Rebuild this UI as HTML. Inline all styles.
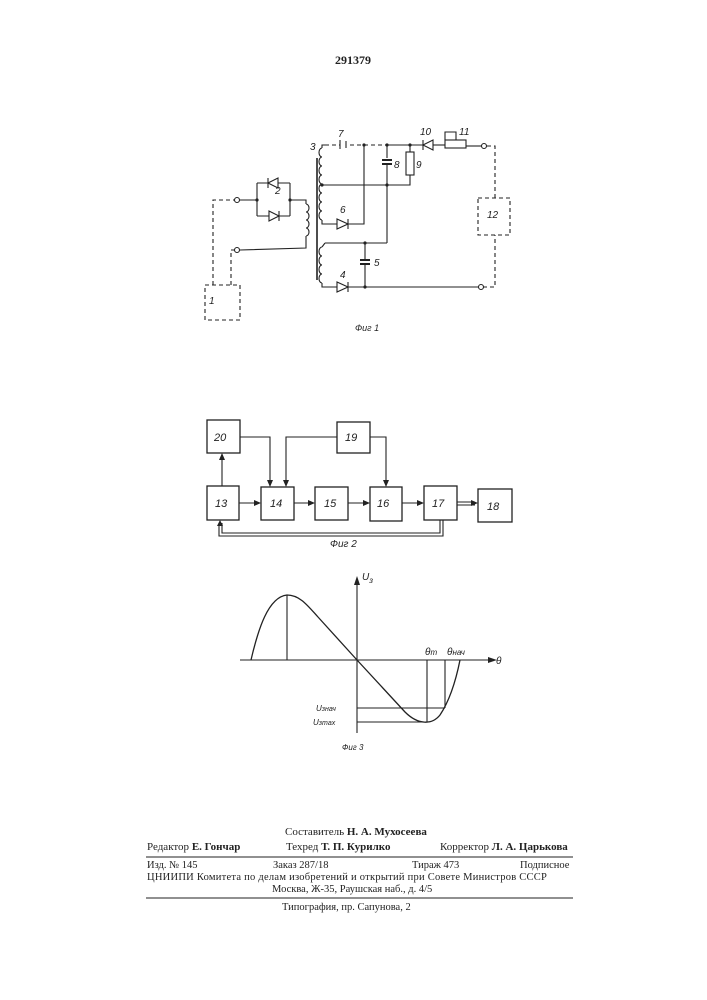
<!DOCTYPE html>
<html><head><meta charset="utf-8"><style>
html,body{margin:0;padding:0;background:#fff;}
body{width:707px;height:1000px;position:relative;overflow:hidden;font-family:"Liberation Serif",serif;color:#222;}
.t{position:absolute;white-space:nowrap;font-size:11px;}
svg{position:absolute;left:0;top:0;}
</style></head><body>
<svg width="707" height="1000" viewBox="0 0 707 1000" font-family="Liberation Sans, sans-serif" font-style="italic" fill="none" stroke="#222" stroke-width="1.1">
<text x="353" y="64" font-family="Liberation Serif, serif" font-style="normal" font-weight="bold" font-size="12" text-anchor="middle" fill="#222" stroke="none">291379</text>

<!-- FIG 1 -->
<g stroke-dasharray="4,3">
<rect x="205" y="285" width="35" height="35"/>
<polyline points="213,285 213,200 234,200"/>
<polyline points="231,285 231,250 234,250"/>
<polyline points="325,145 340,145"/>
<polyline points="350,145 387,145"/>
<polyline points="487,146 495,146 495,198"/>
<polyline points="483,287 495,287 495,235"/>
<rect x="478" y="198" width="32" height="37"/>
</g>
<circle cx="237" cy="200" r="2.5"/><circle cx="237" cy="250" r="2.5"/>
<circle cx="484" cy="146" r="2.5"/><circle cx="481" cy="287" r="2.5"/>
<!-- bridge -->
<polyline points="240,200 257,200"/>
<polyline points="257,183 257,216"/><polyline points="290,183 290,216"/>
<polyline points="257,183 290,183"/><polyline points="257,216 290,216"/>
<polygon points="268,183 278,178 278,188" fill="#fff"/><line x1="268" y1="178" x2="268" y2="188"/>
<polygon points="279,216 269,211 269,221" fill="#fff"/><line x1="279" y1="211" x2="279" y2="221"/>
<polyline points="290,200 306,200 306,204"/>
<path d="M306,204 a3,4 0 0 1 0,8 a3,4 0 0 1 0,8 a3,4 0 0 1 0,8 a3,4 0 0 1 0,8"/>
<polyline points="306,236 306,248 240,250"/>
<line x1="317" y1="158" x2="317" y2="280" stroke-width="1.6"/>
<!-- upper secondary -->
<path d="M322,148 a3,4.5 0 0 0 0,9 a3,4.5 0 0 0 0,9 a3,4.5 0 0 0 0,9 a3,4.5 0 0 0 0,9 a3,4.5 0 0 0 0,9 a3,4.5 0 0 0 0,9 a3,4.5 0 0 0 0,9 a3,4.5 0 0 0 0,9"/>
<polyline points="322,148 322,145 325,145"/>
<line x1="340" y1="140" x2="340" y2="149"/><line x1="346" y1="141" x2="346" y2="148"/>
<polyline points="322,185 410,185 410,175"/>
<polyline points="322,220 322,224 337,224"/>
<polygon points="348,224 337,219 337,229" fill="#fff"/><line x1="348" y1="219" x2="348" y2="229"/>
<polyline points="348,224 364,224 364,145"/>
<polyline points="387,145 423,145"/>
<polygon points="423,145 433,140 433,150" fill="#fff"/><line x1="423" y1="140" x2="423" y2="150"/>
<polyline points="433,145 445,145"/>
<rect x="445" y="140" width="21" height="8"/>
<polyline points="445,140 445,132 456,132 456,140"/>
<polyline points="466,146 482,146"/>
<line x1="387" y1="145" x2="387" y2="158"/>
<line x1="382" y1="160" x2="392" y2="160" stroke-width="2"/><line x1="382" y1="164" x2="392" y2="164" stroke-width="2"/>
<polyline points="387,164 387,243"/>
<line x1="410" y1="145" x2="410" y2="152"/><rect x="406" y="152" width="8" height="23"/>
<!-- lower secondary -->
<polyline points="325,243 387,243"/>
<polyline points="325,243 322,247"/>
<path d="M322,247 a3,4.5 0 0 0 0,9 a3,4.5 0 0 0 0,9 a3,4.5 0 0 0 0,9 a3,4.5 0 0 0 0,9"/>
<polyline points="322,283 322,287 337,287"/>
<polygon points="348,287 337,282 337,292" fill="#fff"/><line x1="348" y1="282" x2="348" y2="292"/>
<polyline points="348,287 479,287"/>
<polyline points="365,243 365,260"/>
<line x1="360" y1="260" x2="370" y2="260" stroke-width="2"/><line x1="360" y1="264" x2="370" y2="264" stroke-width="2"/>
<polyline points="365,264 365,287"/>
<g fill="#222" stroke="none">
<circle cx="257" cy="200" r="1.6"/><circle cx="290" cy="200" r="1.6"/>
<circle cx="364" cy="145" r="1.6"/><circle cx="387" cy="145" r="1.6"/><circle cx="410" cy="145" r="1.6"/>
<circle cx="322" cy="185" r="1.6"/><circle cx="387" cy="185" r="1.6"/>
<circle cx="365" cy="243" r="1.6"/><circle cx="365" cy="287" r="1.6"/>
</g>
<g fill="#222" stroke="none" font-size="10">
<text x="310" y="150">3</text><text x="338" y="137">7</text><text x="420" y="135">10</text><text x="459" y="135">11</text>
<text x="394" y="168">8</text><text x="416" y="168">9</text><text x="275" y="194">2</text><text x="340" y="213">6</text>
<text x="374" y="266">5</text><text x="340" y="278">4</text><text x="487" y="218">12</text><text x="209" y="304">1</text>
<text x="355" y="331" font-size="9">Фиг 1</text>
</g>

<!-- FIG 2 -->
<g stroke-width="1.3">
<rect x="207" y="420" width="33" height="33"/><rect x="337" y="422" width="33" height="31"/>
<rect x="207" y="486" width="32" height="34"/><rect x="261" y="487" width="33" height="33"/>
<rect x="315" y="487" width="33" height="33"/><rect x="370" y="487" width="32" height="34"/>
<rect x="424" y="486" width="33" height="34"/><rect x="478" y="489" width="34" height="33"/>
</g>
<polyline points="240,437 270,437 270,484"/><polyline points="337,437 286,437 286,484"/>
<polyline points="370,437 386,437 386,484"/>
<line x1="222" y1="486" x2="222" y2="457"/>
<line x1="239" y1="503" x2="258" y2="503"/><line x1="294" y1="503" x2="312" y2="503"/>
<line x1="348" y1="503" x2="367" y2="503"/><line x1="402" y1="503" x2="421" y2="503"/>
<line x1="457" y1="502" x2="475" y2="502"/><line x1="457" y1="505" x2="475" y2="505"/>
<polyline points="440,520 440,533 222,533 222,523"/>
<polyline points="443,520 443,536 219,536 219,523"/>
<g fill="#222" stroke="none">
<polygon points="270,487 267,480 273,480"/><polygon points="286,487 283,480 289,480"/><polygon points="386,487 383,480 389,480"/>
<polygon points="222,453 219,460 225,460"/>
<polygon points="261,503 254,500 254,506"/><polygon points="315,503 308,500 308,506"/>
<polygon points="370,503 363,500 363,506"/><polygon points="424,503 417,500 417,506"/>
<polygon points="478,503 471,500 471,506"/><polygon points="220,520 217,526 223,526"/>
</g>
<g fill="#222" stroke="none" font-size="11">
<text x="214" y="441">20</text><text x="345" y="441">19</text><text x="215" y="507">13</text><text x="270" y="507">14</text>
<text x="324" y="507">15</text><text x="377" y="507">16</text><text x="432" y="507">17</text><text x="487" y="510">18</text>
<text x="330" y="547" font-size="10">Фиг 2</text>
</g>

<!-- FIG 3 -->
<line x1="357" y1="733" x2="357" y2="580"/><polygon points="357,576 354,585 360,585" fill="#222" stroke="none"/>
<line x1="240" y1="660" x2="492" y2="660"/><polygon points="497,660 488,657 488,663" fill="#222" stroke="none"/>
<path d="M251,660 C258,630 268,597 287,595 C300,595 308,606 318,617 L357,660 L405,712 C418,725 432,725 440,715 C450,700 456,680 460,660" stroke-width="1.3"/>
<line x1="287" y1="595" x2="287" y2="660"/>
<line x1="427" y1="660" x2="427" y2="722"/><line x1="445" y1="660" x2="445" y2="708"/>
<line x1="357" y1="708" x2="445" y2="708"/><line x1="357" y1="722" x2="427" y2="722"/>
<g fill="#222" stroke="none" font-size="10">
<text x="362" y="580">U<tspan font-size="8" dy="3">з</tspan></text>
<text x="496" y="664">θ</text>
<text x="425" y="655">θ<tspan font-size="8">m</tspan></text>
<text x="447" y="655">θ<tspan font-size="8">нач</tspan></text>
<text x="316" y="711" font-size="8">U<tspan font-size="7">знач</tspan></text>
<text x="313" y="725" font-size="8">U<tspan font-size="7">зmax</tspan></text>
<text x="342" y="750" font-size="8">Фиг 3</text>
</g>

<line x1="146" y1="857" x2="573" y2="857" stroke-width="1"/>
<line x1="146" y1="898" x2="573" y2="898" stroke-width="1"/>
</svg>

<div class="t" style="left:285px;top:826px;">Составитель <b>Н. А. Мухосеева</b></div>
<div class="t" style="left:147px;top:841px;">Редактор <b>Е. Гончар</b></div>
<div class="t" style="left:286px;top:841px;">Техред <b>Т. П. Курилко</b></div>
<div class="t" style="left:440px;top:841px;">Корректор <b>Л. А. Царькова</b></div>
<div class="t" style="left:147px;top:860px;font-size:10.5px;">Изд. № 145</div>
<div class="t" style="left:273px;top:860px;font-size:10.5px;">Заказ 287/18</div>
<div class="t" style="left:412px;top:860px;font-size:10.5px;">Тираж 473</div>
<div class="t" style="left:520px;top:860px;font-size:10.5px;">Подписное</div>
<div class="t" style="left:147px;top:872px;font-size:10.5px;letter-spacing:0.25px;">ЦНИИПИ Комитета по делам изобретений и открытий при Совете Министров СССР</div>
<div class="t" style="left:272px;top:884px;font-size:10.5px;">Москва, Ж-35, Раушская наб., д. 4/5</div>
<div class="t" style="left:282px;top:902px;font-size:10.5px;">Типография, пр. Сапунова, 2</div>
</body></html>
